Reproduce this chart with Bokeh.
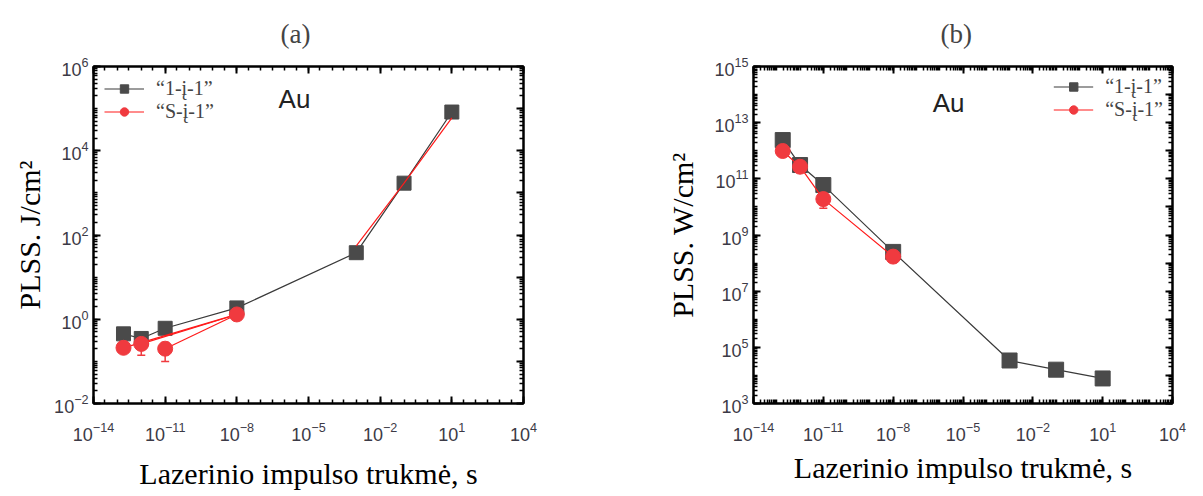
from bokeh.plotting import figure
from bokeh.layouts import row
from bokeh.models import (Range1d, LogAxis, FixedTicker, CustomJSTickFormatter, Legend,
                          LegendItem, Label, Whisker, TeeHead, ColumnDataSource)
from bokeh.embed import file_html
from bokeh.resources import INLINE

# ---------------- data ----------------
labels = ["\u201c1-\u012f-1\u201d", "\u201cS-\u012f-1\u201d"]

# (a) threshold fluence, J/cm^2
dur_1i1 = [1.8e-13, 1e-12, 1e-11, 1e-8, 1e-3, 1e-1, 1e1]
fluence_1i1 = [0.45, 0.35, 0.61, 1.86, 38, 1700, 83000]
dur_Si1 = [1.8e-13, 1e-12, 1e-11, 1e-8]
fluence_Si1 = [0.21, 0.26, 0.20, 1.3]
fluence_Si1_lo = [0.18, 0.14, 0.10, 1.05]
fluence_Si1_hi = [0.25, 0.33, 0.28, 1.55]
dur_Si1_long = [1e-3, 1e-1, 1e1]
fluence_Si1_long = [55, 1700, 60000]

# (b) threshold intensity, W/cm^2
intensity_1i1 = [2.4e12, 3.1e11, 6.0e10, 2.5e8, 3.4e4, 1.6e4, 7.8e3]
intensity_Si1 = [9.8e11, 2.7e11, 1.9e10, 1.7e8]
intensity_Si1_lo = [7.5e11, 2.0e11, 9.0e9, 1.2e8]
intensity_Si1_hi = [1.3e12, 3.6e11, 3.0e10, 2.3e8]

x_ticks = [1e-14, 1e-11, 1e-8, 1e-5, 1e-2, 1e1, 1e4]
x_decades = [10.0 ** k for k in range(-14, 5)]
y_ticks_a = [1e-2, 1e0, 1e2, 1e4, 1e6]
y_decades_a = [10.0 ** k for k in range(-2, 7)]
y_ticks_b = [1e3, 1e5, 1e7, 1e9, 1e11, 1e13, 1e15]
y_decades_b = [10.0 ** k for k in range(3, 16)]

panel_titles = ["(a)", "(b)"]

BLACK = "#4a4a4a"
BLACK_LINE = "#3a3a3a"
RED = "#f03a3f"
RED_LINE = "#ff1a1a"
TICK_COLOR = "#3c3a46"
SERIF = "Liberation Serif"
SANS = "Liberation Sans"


def subticks(decades):
    out = []
    for d in decades:
        for m in range(2, 10):
            out.append(d * m)
    return out


def style_axis(ax, labels_on=True):
    ax.axis_line_width = 2
    ax.axis_line_color = "black"
    ax.major_tick_in = 7
    ax.major_tick_out = 0
    ax.minor_tick_in = 4
    ax.minor_tick_out = 0
    ax.major_tick_line_width = 2
    ax.minor_tick_line_width = 1.5
    ax.major_tick_line_color = "black"
    ax.minor_tick_line_color = "black"
    ax.major_label_text_font = SANS
    ax.major_label_text_font_size = "18px"
    ax.major_label_text_color = TICK_COLOR
    ax.axis_label_text_font = SERIF
    ax.axis_label_text_font_style = "normal"
    ax.axis_label_text_font_size = "30px"
    ax.axis_label_text_color = "black"
    if not labels_on:
        ax.formatter = CustomJSTickFormatter(code="return ''")
        ax.major_label_standoff = 0


def make_panel(title, width, borders, y_range, x_major, x_minor, y_major, y_minor,
               y_right_major, ylabel, ylabel_standoff, xlabel_standoff):
    left, right, top, bottom = borders
    p = figure(width=width, height=496, x_axis_type="log", y_axis_type="log",
               x_range=Range1d(1e-14, 1e4), y_range=Range1d(*y_range),
               output_backend="svg", toolbar_location=None,
               min_border_left=left, min_border_right=right,
               min_border_top=top, min_border_bottom=bottom)
    p.background_fill_color = "white"
    p.border_fill_color = "white"
    p.outline_line_color = "black"
    p.outline_line_width = 2
    p.xgrid.visible = False
    p.ygrid.visible = False

    p.title.text = title
    p.title.align = "left"
    p.title.offset = 187
    p.title.vertical_align = "top"
    p.title.standoff = 32
    p.title.text_font = SERIF
    p.title.text_font_style = "normal"
    p.title.text_font_size = "27px"

    xa = p.xaxis[0]
    xa.ticker = FixedTicker(ticks=x_major, minor_ticks=x_minor)
    xa.axis_label = "Lazerinio impulso trukm\u0117, s"
    xa.major_label_standoff = 18
    xa.axis_label_standoff = xlabel_standoff
    style_axis(xa)

    ya = p.yaxis[0]
    ya.ticker = FixedTicker(ticks=y_major, minor_ticks=y_minor)
    ya.axis_label = ylabel
    ya.major_label_standoff = 5
    ya.axis_label_standoff = ylabel_standoff
    style_axis(ya)

    top_ax = LogAxis(ticker=FixedTicker(ticks=x_major, minor_ticks=x_minor))
    style_axis(top_ax, labels_on=False)
    p.add_layout(top_ax, "above")
    right_ax = LogAxis(ticker=FixedTicker(ticks=y_right_major, minor_ticks=y_minor))
    style_axis(right_ax, labels_on=False)
    p.add_layout(right_ax, "right")
    return p


# ---------------- panel (a) ----------------
pa = make_panel(panel_titles[0], 620, (93, 97, 66, 83), (1e-2, 1e6), x_ticks,
                x_decades + [3 * d for d in x_decades[:-1]],
                y_ticks_a, y_decades_a + subticks(y_decades_a[:-1]), y_decades_a,
                "PLSS. J/cm\u00b2", 5, 13)

a_line = pa.line(dur_1i1, fluence_1i1, line_color=BLACK_LINE, line_width=1.2)
a_sq = pa.scatter(dur_1i1, fluence_1i1, marker="square", size=14,
                  fill_color=BLACK, line_color=BLACK)

src_a = ColumnDataSource(dict(x=dur_Si1, y=fluence_Si1, lo=fluence_Si1_lo, hi=fluence_Si1_hi))
n_a = len(dur_Si1) - 1
a_spokes = pa.segment(x0=dur_Si1[:n_a], y0=fluence_Si1[:n_a],
                      x1=[dur_Si1[-1]] * n_a, y1=[fluence_Si1[-1]] * n_a,
                      line_color=RED_LINE, line_width=1.2)
a_tail = pa.line(dur_Si1_long, fluence_Si1_long, line_color=RED_LINE, line_width=1.2)
pa.add_layout(Whisker(source=src_a, base="x", lower="lo", upper="hi", dimension="height",
                      line_color=RED, line_width=1.5,
                      lower_head=TeeHead(size=8, line_color=RED, line_width=1.5),
                      upper_head=TeeHead(size=8, line_color=RED, line_width=1.5)))
a_ci = pa.scatter("x", "y", source=src_a, marker="circle", size=15,
                  fill_color=RED, line_color=RED)

leg_a = Legend(items=[LegendItem(label=labels[0], renderers=[a_line, a_sq]),
                      LegendItem(label=labels[1], renderers=[a_tail, a_ci])],
               location="top_left", margin=11, padding=4, spacing=0,
               glyph_width=40, glyph_height=21, label_height=21, label_standoff=12,
               label_text_font=SERIF, label_text_font_size="20px",
               background_fill_alpha=0, border_line_color=None)
pa.add_layout(leg_a)
pa.add_layout(Label(x=2.6e-6, y=1.65e5, text="Au", text_font=SANS, text_font_size="26px",
                    text_color="#222222", text_align="center", text_baseline="middle"))

# ---------------- panel (b) ----------------
pb = make_panel(panel_titles[1], 583, (133, 31, 66, 93), (1e3, 1e15), x_ticks,
                x_decades + subticks(x_decades[:-1]),
                y_ticks_b, y_decades_b + subticks(y_decades_b[:-1]), y_decades_b,
                "PLSS. W/cm\u00b2", 12, 7)

b_line = pb.line(dur_1i1, intensity_1i1, line_color=BLACK_LINE, line_width=1.2)
b_sq = pb.scatter(dur_1i1, intensity_1i1, marker="square", size=15,
                  fill_color=BLACK, line_color=BLACK)
src_b = ColumnDataSource(dict(x=dur_Si1, y=intensity_Si1, lo=intensity_Si1_lo, hi=intensity_Si1_hi))
b_rl = pb.line("x", "y", source=src_b, line_color=RED_LINE, line_width=1.2)
pb.add_layout(Whisker(source=src_b, base="x", lower="lo", upper="hi", dimension="height",
                      line_color=RED, line_width=1.5,
                      lower_head=TeeHead(size=8, line_color=RED, line_width=1.5),
                      upper_head=TeeHead(size=8, line_color=RED, line_width=1.5)))
b_ci = pb.scatter("x", "y", source=src_b, marker="circle", size=15,
                  fill_color=RED, line_color=RED)

leg_b = Legend(items=[LegendItem(label=labels[0], renderers=[b_line, b_sq]),
                      LegendItem(label=labels[1], renderers=[b_rl, b_ci])],
               location="top_right", margin=9, padding=4, spacing=0,
               glyph_width=40, glyph_height=21, label_height=21, label_standoff=12,
               label_text_font=SERIF, label_text_font_size="20px",
               background_fill_alpha=0, border_line_color=None)
pb.add_layout(leg_b)
pb.add_layout(Label(x=2.4e-6, y=5.2e13, text="Au", text_font=SANS, text_font_size="26px",
                    text_color="#222222", text_align="center", text_baseline="middle"))

layout = row(pa, pb)
open("out.html", "w").write(file_html(layout, INLINE))
